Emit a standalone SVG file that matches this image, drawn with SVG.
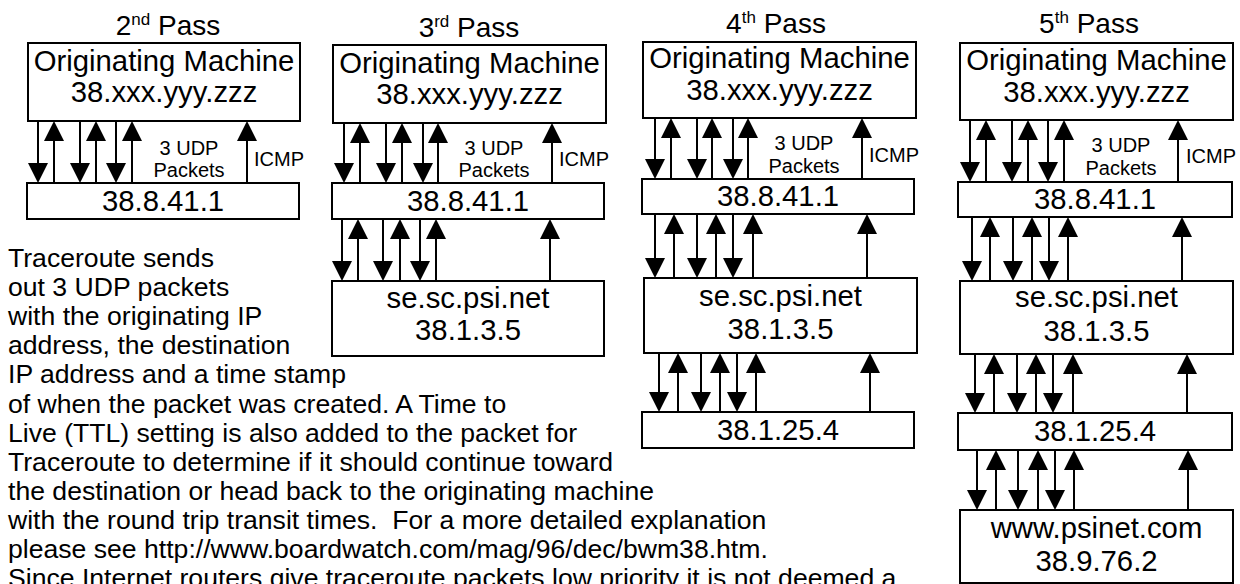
<svg xmlns="http://www.w3.org/2000/svg" width="1240" height="584" viewBox="0 0 1240 584">
<style>
text{font-family:"Liberation Sans",Arial,sans-serif;fill:#000}
.t{font-size:28px;text-anchor:middle}
.b{font-size:29.3px;text-anchor:middle}
.s{font-size:20px}
.sc{font-size:20px;text-anchor:middle}
.p{font-size:26.6px;white-space:pre}
rect.n{fill:#fff;stroke:#000;stroke-width:2}
#conn path{stroke:#000;stroke-width:2;fill:none;marker-end:url(#ah)}
</style>
<defs>
<marker id="ah" markerUnits="userSpaceOnUse" markerWidth="20" markerHeight="20" viewBox="0 0 20 20" refX="16" refY="10" orient="auto">
<path d="M0,0L20,10L0,20z" fill="#000"/>
</marker>
</defs>
<rect width="1240" height="584" fill="#fff"/>

<!-- Titles -->
<g id="titles">
<text class="t" x="168" y="35">2<tspan font-size="17" dy="-10">nd</tspan><tspan dy="10"> Pass</tspan></text>
<text class="t" x="469" y="37">3<tspan font-size="17" dy="-10">rd</tspan><tspan dy="10"> Pass</tspan></text>
<text class="t" x="776" y="33">4<tspan font-size="17" dy="-10">th</tspan><tspan dy="10"> Pass</tspan></text>
<text class="t" x="1089" y="33">5<tspan font-size="17" dy="-10">th</tspan><tspan dy="10"> Pass</tspan></text>
</g>

<!-- Column 1 (2nd pass) -->
<g id="p2-orig"><rect class="n" x="28" y="43" width="272" height="78"/>
<text class="b" x="164" y="71">Originating Machine</text><text class="b" x="164" y="102">38.xxx.yyy.zzz</text></g>
<g id="p2-r1"><rect class="n" x="27" y="183" width="272" height="36"/>
<text class="b" x="163" y="211">38.8.41.1</text></g>
<g id="p2-labels"><text class="sc" x="189" y="155">3 UDP</text><text class="sc" x="189" y="177">Packets</text><text class="s" x="254" y="166">ICMP</text></g>

<!-- Column 2 (3rd pass) -->
<g id="p3-orig"><rect class="n" x="333" y="45" width="273" height="78"/>
<text class="b" x="469.5" y="73">Originating Machine</text><text class="b" x="469.5" y="104">38.xxx.yyy.zzz</text></g>
<g id="p3-r1"><rect class="n" x="332" y="183" width="272" height="36"/>
<text class="b" x="468" y="211">38.8.41.1</text></g>
<g id="p3-r2"><rect class="n" x="332" y="281" width="272" height="75"/>
<text class="b" x="468" y="308">se.sc.psi.net</text><text class="b" x="468" y="340">38.1.3.5</text></g>
<g id="p3-labels"><text class="sc" x="494" y="155">3 UDP</text><text class="sc" x="494" y="177">Packets</text><text class="s" x="559" y="166">ICMP</text></g>

<!-- Column 3 (4th pass) -->
<g id="p4-orig"><rect class="n" x="643" y="42" width="273" height="76"/>
<text class="b" x="779.5" y="68">Originating Machine</text><text class="b" x="779.5" y="100">38.xxx.yyy.zzz</text></g>
<g id="p4-r1"><rect class="n" x="642" y="179" width="272" height="35"/>
<text class="b" x="778" y="206">38.8.41.1</text></g>
<g id="p4-r2"><rect class="n" x="644" y="278" width="273" height="75"/>
<text class="b" x="780.5" y="306">se.sc.psi.net</text><text class="b" x="780.5" y="339">38.1.3.5</text></g>
<g id="p4-r3"><rect class="n" x="642" y="412" width="272" height="36"/>
<text class="b" x="778" y="440">38.1.25.4</text></g>
<g id="p4-labels"><text class="sc" x="804" y="150">3 UDP</text><text class="sc" x="804" y="173">Packets</text><text class="s" x="869" y="162">ICMP</text></g>

<!-- Column 4 (5th pass) -->
<g id="p5-orig"><rect class="n" x="960" y="43" width="273" height="77"/>
<text class="b" x="1096.5" y="70">Originating Machine</text><text class="b" x="1096.5" y="102">38.xxx.yyy.zzz</text></g>
<g id="p5-r1"><rect class="n" x="958" y="182" width="274" height="35"/>
<text class="b" x="1095" y="209">38.8.41.1</text></g>
<g id="p5-r2"><rect class="n" x="960" y="281" width="273" height="73"/>
<text class="b" x="1096.5" y="307">se.sc.psi.net</text><text class="b" x="1096.5" y="341">38.1.3.5</text></g>
<g id="p5-r3"><rect class="n" x="958" y="413" width="274" height="37"/>
<text class="b" x="1095" y="441">38.1.25.4</text></g>
<g id="p5-r4"><rect class="n" x="960" y="510" width="273" height="73"/>
<text class="b" x="1096.5" y="538">www.psinet.com</text><text class="b" x="1096.5" y="571">38.9.76.2</text></g>
<g id="p5-labels"><text class="sc" x="1121" y="152">3 UDP</text><text class="sc" x="1121" y="175">Packets</text><text class="s" x="1186" y="163">ICMP</text></g>

<!-- Connectors -->
<g id="conn">
<!-- col1 gap1 121-183 -->
<path d="M38 121V179"/><path d="M80 121V179"/><path d="M116 121V179"/>
<path d="M54 183V125"/><path d="M96 183V125"/><path d="M132 183V125"/><path d="M247 183V125"/>
<!-- col2 gap1 123-183 -->
<path d="M344 123V179"/><path d="M386 123V179"/><path d="M423 123V179"/>
<path d="M360 183V127"/><path d="M402 183V127"/><path d="M438 183V127"/><path d="M552 183V127"/>
<!-- col2 gap2 219-281 -->
<path d="M342 219V277"/><path d="M383 219V277"/><path d="M420 219V277"/>
<path d="M358 281V223"/><path d="M400 281V223"/><path d="M436 281V223"/><path d="M550 281V223"/>
<!-- col3 gap1 118-179 -->
<path d="M655 118V175"/><path d="M697 118V175"/><path d="M733 118V175"/>
<path d="M671 179V122"/><path d="M712 179V122"/><path d="M748 179V122"/><path d="M862 179V122"/>
<!-- col3 gap2 214-278 -->
<path d="M655 214V274"/><path d="M697 214V274"/><path d="M733 214V274"/>
<path d="M674 278V218"/><path d="M716 278V218"/><path d="M753 278V218"/><path d="M867 278V218"/>
<!-- col3 gap3 353-412 -->
<path d="M659 353V408"/><path d="M701 353V408"/><path d="M737 353V408"/>
<path d="M678 412V357"/><path d="M720 412V357"/><path d="M756 412V357"/><path d="M870 412V357"/>
<!-- col4 gap1 120-182 -->
<path d="M970 120V178"/><path d="M1012 120V178"/><path d="M1048 120V178"/>
<path d="M986 182V124"/><path d="M1028 182V124"/><path d="M1064 182V124"/><path d="M1178 182V124"/>
<!-- col4 gap2 217-281 -->
<path d="M972 217V277"/><path d="M1013 217V277"/><path d="M1049 217V277"/>
<path d="M990 281V221"/><path d="M1032 281V221"/><path d="M1068 281V221"/><path d="M1182 281V221"/>
<!-- col4 gap3 354-413 -->
<path d="M975 354V409"/><path d="M1017 354V409"/><path d="M1053 354V409"/>
<path d="M994 413V358"/><path d="M1036 413V358"/><path d="M1073 413V358"/><path d="M1187 413V358"/>
<!-- col4 gap4 450-510 -->
<path d="M977 450V506"/><path d="M1018 450V506"/><path d="M1055 450V506"/>
<path d="M996 510V454"/><path d="M1038 510V454"/><path d="M1074 510V454"/><path d="M1188 510V454"/>
</g>

<!-- Body text -->
<g id="description">
<text class="p" x="8" y="267">Traceroute sends</text>
<text class="p" x="8" y="296">out 3 UDP packets</text>
<text class="p" x="8" y="325">with the originating IP</text>
<text class="p" x="8" y="354">address, the destination</text>
<text class="p" x="8" y="383">IP address and a time stamp</text>
<text class="p" x="8" y="412.5">of when the packet was created. A Time to</text>
<text class="p" x="8" y="441.5">Live (TTL) setting is also added to the packet for</text>
<text class="p" x="8" y="470.5">Traceroute to determine if it should continue toward</text>
<text class="p" x="8" y="499.5">the destination or head back to the originating machine</text>
<text class="p" x="8" y="528.5">with the round trip transit times.  For a more detailed explanation</text>
<text class="p" x="8" y="557.5">please see http://www.boardwatch.com/mag/96/dec/bwm38.htm.</text>
<text class="p" x="8" y="587">Since Internet routers give traceroute packets low priority it is not deemed a</text>
</g>
</svg>
